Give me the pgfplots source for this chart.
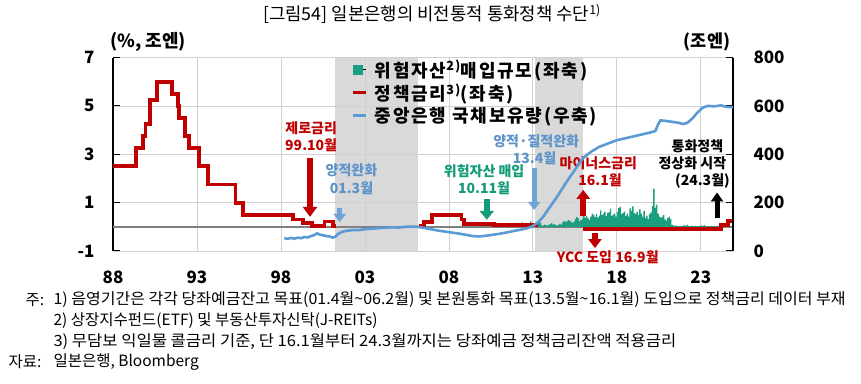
\documentclass[border=0pt]{standalone}
\usepackage{fontspec}
\usepackage{graphicx}
\setmainfont{Noto Sans CJK KR}
\newfontfamily\notefont{Noto Sans CJK KR}
\newfontfamily\legfont[LetterSpace=10]{Noto Sans CJK KR}
\usepackage{pgfplots}
\pgfplotsset{compat=1.18}
\usetikzlibrary{arrows.meta}
\definecolor{pred}{HTML}{C00000}
\definecolor{pblue}{HTML}{5B9BD5}
\definecolor{pgreen}{HTML}{1A9E80}
\definecolor{tgreen}{HTML}{139A78}
\definecolor{tblue}{HTML}{5E93C9}
\definecolor{ablue}{HTML}{6FA3D6}
\definecolor{shade}{HTML}{D9D9D9}
\definecolor{gridc}{HTML}{D0D0D0}
\newcommand{\tl}{\fontsize{17bp}{18bp}\selectfont\bfseries}
\newcommand{\an}{\fontsize{14bp}{16bp}\selectfont\bfseries}
\newcommand{\nt}{\notefont\fontsize{15.5bp}{17bp}\selectfont}
\begin{document}
\begin{tikzpicture}
\path (0,0) rectangle (861bp,384bp);
\begin{axis}[
  set layers,
  at={(113bp,133bp)}, anchor=south west,
  scale only axis, width=620bp, height=193.5bp,
  xmin=1988, xmax=2024.92, ymin=-1, ymax=7,
  axis x line*=bottom, axis y line*=left,
  axis line style={-},
  x axis line style={draw=none},
  y axis line style={black, line width=1.2bp},
  xtick={1988,1993,1998,2003,2008,2013,2018,2023},
  xticklabels={88,93,98,03,08,13,18,23},
  ytick={-1,1,3,5,7}, yticklabels={-1,1,3,5,7},
  xmajorgrids, ymajorgrids,
  grid style={gridc, line width=0.7bp},
  tick align=inside, major tick length=7bp,
  xtick style={draw=none},
  ytick style={black, line width=1bp},
  ticklabel style={font=\tl},
  yticklabel style={xshift=-15bp},
  xticklabel style={yshift=-16bp},
  clip mode=individual,
]
\addplot[fill=shade, draw=none, on layer=axis background] coordinates {(2001.2,-1) (2001.2,7) (2006.15,7) (2006.15,-1)} -- cycle;
\addplot[fill=shade, draw=none, on layer=axis background] coordinates {(2013.1,-1) (2013.1,7) (2016.0,7) (2016.0,-1)} -- cycle;
\draw[black!50, line width=2bp] (axis cs:1988,0) -- (axis cs:2024.92,0);
% risk asset purchases (monthly)
\addplot[fill=pgreen, draw=none, const plot] coordinates {
(2010.833,0.02)(2010.917,0.06)
(2011.000,0.03)(2011.083,0.05)(2011.167,0.15)(2011.250,0.04)(2011.333,0.02)(2011.417,0.03)(2011.500,0.06)(2011.583,0.12)(2011.667,0.05)(2011.750,0.03)(2011.833,0.08)(2011.917,0.04)
(2012.000,0.05)(2012.083,0.03)(2012.167,0.04)(2012.250,0.09)(2012.333,0.18)(2012.417,0.07)(2012.500,0.04)(2012.583,0.06)(2012.667,0.03)(2012.750,0.09)(2012.833,0.22)(2012.917,0.07)
(2013.000,0.05)(2013.083,0.06)(2013.167,0.04)(2013.250,0.10)(2013.333,0.16)(2013.417,0.18)(2013.500,0.05)(2013.583,0.06)(2013.667,0.09)(2013.750,0.07)(2013.833,0.05)(2013.917,0.08)
(2014.000,0.12)(2014.083,0.15)(2014.167,0.09)(2014.250,0.11)(2014.333,0.07)(2014.417,0.05)(2014.500,0.09)(2014.583,0.12)(2014.667,0.08)(2014.750,0.18)(2014.833,0.24)(2014.917,0.20)
(2015.000,0.22)(2015.083,0.28)(2015.167,0.25)(2015.250,0.20)(2015.333,0.15)(2015.417,0.22)(2015.500,0.32)(2015.583,0.40)(2015.667,0.35)(2015.750,0.22)(2015.833,0.28)(2015.917,0.33)
(2016.000,0.72)(2016.083,0.38)(2016.167,0.45)(2016.250,0.35)(2016.333,0.28)(2016.417,0.42)(2016.500,0.55)(2016.583,0.48)(2016.667,0.40)(2016.750,0.52)(2016.833,0.38)(2016.917,0.46)
(2017.000,0.68)(2017.083,0.48)(2017.167,0.55)(2017.250,0.62)(2017.333,0.44)(2017.417,0.58)(2017.500,0.60)(2017.583,0.74)(2017.667,0.45)(2017.750,0.50)(2017.833,0.55)(2017.917,0.42)
(2018.000,0.62)(2018.083,0.78)(2018.167,0.82)(2018.250,0.52)(2018.333,0.58)(2018.417,0.63)(2018.500,0.45)(2018.583,0.55)(2018.667,0.42)(2018.750,0.76)(2018.833,0.66)(2018.917,0.84)
(2019.000,0.57)(2019.083,0.52)(2019.167,0.62)(2019.250,0.48)(2019.333,0.72)(2019.417,0.55)(2019.500,0.42)(2019.583,0.66)(2019.667,0.36)(2019.750,0.46)(2019.833,0.32)(2019.917,0.52)
(2020.000,0.60)(2020.083,0.86)(2020.167,1.58)(2020.250,0.78)(2020.333,0.92)(2020.417,0.55)(2020.500,0.42)(2020.583,0.38)(2020.667,0.40)(2020.750,0.48)(2020.833,0.30)(2020.917,0.26)
(2021.000,0.36)(2021.083,0.42)(2021.167,0.33)(2021.250,0.08)(2021.333,0.06)(2021.417,0.04)(2021.500,0.05)(2021.583,0.03)(2021.667,0.02)(2021.750,0.04)(2021.833,0.03)(2021.917,0.05)
(2022.000,0.07)(2022.083,0.04)(2022.167,0.09)(2022.250,0.03)(2022.333,0.02)(2022.417,0.05)(2022.500,0.03)(2022.583,0.02)(2022.667,0.04)(2022.750,0.03)(2022.833,0.02)(2022.917,0.04)
(2023.000,0.06)(2023.083,0.03)(2023.167,0.07)(2023.250,0.02)(2023.333,0.02)(2023.417,0.03)(2023.500,0.02)(2023.583,0.01)(2023.667,0.03)(2023.750,0.02)(2023.833,0.01)(2023.917,0.03)
(2024.000,0.04)(2024.083,0.03)(2024.167,0.02)(2024.250,0)
} \closedcycle;
% policy rate
\addplot[pred, line width=3.8bp, const plot, line join=miter] coordinates {
(1988.0,2.5)(1989.35,3.25)(1989.8,3.75)(1989.94,4.25)(1990.2,5.25)(1990.6,6.0)(1991.49,5.5)(1991.85,5.0)(1991.93,4.5)(1992.29,3.75)(1992.54,3.25)(1993.14,2.5)(1993.67,1.75)(1995.3,1.0)(1995.72,0.5)(1998.7,0.3)(1999.3,0.15)(1999.83,0.02)(2000.6,0.22)(2001.12,0.02)(2001.3,0.02)};
\addplot[pred, line width=3.8bp, const plot, line join=miter] coordinates {
(2006.2,0.02)(2006.5,0.2)(2007.0,0.5)(2008.75,0.3)(2008.9,0.12)(2010.7,0.08)(2013.3,0.08)};
\addplot[pred, line width=3.8bp, const plot, line join=miter] coordinates {
(2016.0,-0.1)(2024.19,0.08)(2024.62,0.25)(2024.92,0.25)};
% annotation arrows
\draw[pred, line width=6bp, -{Triangle[width=14bp,length=10bp]}] (axis cs:1999.73,2.85) -- (axis cs:1999.73,0.41);
\draw[ablue, line width=5bp, -{Triangle[width=12bp,length=8bp]}] (axis cs:2001.5,0.79) -- (axis cs:2001.5,0.2);
\draw[tgreen, line width=6bp, -{Triangle[width=14bp,length=9bp]}] (axis cs:2010.26,1.16) -- (axis cs:2010.26,0.29);
\draw[ablue, line width=5bp, -{Triangle[width=12bp,length=8bp]}] (axis cs:2013.08,2.42) -- (axis cs:2013.08,0.7);
\draw[pred, line width=5.5bp, -{Triangle[width=13bp,length=9bp]}] (axis cs:2016.0,0.43) -- (axis cs:2016.0,1.53);
\draw[pred, line width=5.5bp, -{Triangle[width=13bp,length=9bp]}] (axis cs:2016.7,-0.26) -- (axis cs:2016.7,-0.88);
\draw[black, line width=5bp, -{Triangle[width=12bp,length=9bp]}] (axis cs:2023.97,0.36) -- (axis cs:2023.97,1.42);
% annotation texts
\node[text=pred, font=\an] at (axis cs:1999.8,4.09) {제로금리};
\node[text=pred, font=\an] at (axis cs:1999.8,3.36) {99.10월};
\node[text=tblue, font=\an] at (axis cs:2002.2,2.33) {양적완화};
\node[text=tblue, font=\an] at (axis cs:2002.2,1.6) {01.3월};
\node[text=tgreen, font=\an] at (axis cs:2010.1,2.29) {위험자산 매입};
\node[text=tgreen, font=\an] at (axis cs:2010.1,1.6) {10.11월};
\node[text=tblue, font=\an] at (axis cs:2013.2,3.53) {양적·질적완화};
\node[text=tblue, font=\an] at (axis cs:2013.1,2.84) {13.4월};
\node[text=pred, font=\an] at (axis cs:2016.9,2.63) {마이너스금리};
\node[text=pred, font=\an] at (axis cs:2017.0,1.94) {16.1월};
\node[text=pred, font=\an] at (axis cs:2017.46,-1.27) {YCC 도입 16.9월};
\node[text=black, font=\an] at (axis cs:2022.8,3.32) {통화정책};
\node[text=black, font=\an] at (axis cs:2022.5,2.63) {정상화 시작};
\node[text=black, font=\an] at (axis cs:2023.1,1.9) {(24.3월)};
\end{axis}
\begin{axis}[
  at={(113bp,133bp)}, anchor=south west,
  scale only axis, width=620bp, height=193.5bp,
  xmin=1988, xmax=2024.92, ymin=0, ymax=800,
  axis x line=none, axis y line*=right,
  axis line style={-, black, line width=1.2bp},
  ytick={0,200,400,600,800}, yticklabels={0,200,400,600,800},
  tick align=inside, major tick length=7bp,
  ytick style={black, line width=1bp},
  yticklabel style={font=\tl, xshift=17bp},
  clip mode=individual,
  legend style={at={(0.384,0.995)}, anchor=north west, draw=none, fill=none,
    font=\legfont\fontsize{18bp}{20bp}\selectfont\bfseries, row sep=2bp, column sep=6bp, inner sep=0pt,
    nodes={inner sep=1.5bp}},
  legend cell align=left,
]
\addlegendimage{legend image code/.code={\path (0bp,0bp) -- (13bp,0bp); \fill[pgreen] (0bp,-4.5bp) rectangle (9bp,4.5bp);}}
\addlegendentry{위험자산\textsuperscript{2)}매입규모(좌축)}
\addlegendimage{legend image code/.code={\draw[pred, line width=3bp] (0bp,0bp) -- (13bp,0bp);}}
\addlegendentry{정책금리\textsuperscript{3)}(좌축)}
\addplot[pblue, line width=2.6bp, legend image code/.code={\draw[pblue, line width=3bp] (0bp,0bp) -- (13bp,0bp);}] coordinates {
(1998.2,53)(1998.4,50)(1998.6,54)(1998.8,51)(1999.0,55)(1999.2,53)(1999.4,58)(1999.6,56)(1999.8,62)(2000.0,66)(2000.15,73)(2000.3,68)(2000.5,65)(2000.7,62)(2000.9,60)(2001.1,55)(2001.25,60)(2001.4,70)(2001.6,78)(2001.8,82)(2002.0,84)(2002.3,87)(2002.6,86)(2003.0,90)(2003.4,92)(2003.8,95)(2004.2,96)(2004.6,98)(2005.0,97)(2005.4,100)(2005.8,101)(2006.1,100)(2006.4,97)(2006.7,93)(2007.0,89)(2007.4,84)(2007.8,80)(2008.2,76)(2008.6,72)(2009.0,67)(2009.4,62)(2009.8,60)(2010.2,63)(2010.6,67)(2011.0,71)(2011.4,76)(2011.8,82)(2012.2,87)(2012.6,93)(2013.0,103)(2013.3,118)(2013.6,140)(2014.0,180)(2014.5,230)(2015.0,285)(2015.5,335)(2016.0,385)(2016.5,412)(2017.0,432)(2017.5,445)(2018.0,458)(2018.5,466)(2019.0,474)(2019.5,482)(2020.0,490)(2020.3,496)(2020.45,522)(2020.6,540)(2020.9,538)(2021.3,534)(2021.7,530)(2021.95,525)(2022.2,530)(2022.5,548)(2022.8,572)(2023.1,592)(2023.4,600)(2023.8,598)(2024.2,602)(2024.5,596)(2024.92,594)};
\addlegendentry{중앙은행 국채보유량(우축)}
\end{axis}
% titles and units
\node at (432bp,370bp) {\fontsize{17.8bp}{19bp}\selectfont [그림54] 일본은행의 비전통적 통화정책 수단\textsuperscript{1)}};
\node at (148bp,342bp) {\fontsize{18bp}{19bp}\selectfont\bfseries (\%, 조엔)};
\node at (707bp,342bp) {\fontsize{17.5bp}{19bp}\selectfont\bfseries (조엔)};
% footnotes
\node[anchor=west] at (22bp,84bp) {\nt 주:};
\node[anchor=west] at (50bp,84bp) {\scalebox{1.033}[1]{\nt 1) 음영기간은 각각 당좌예금잔고 목표(01.4월\textasciitilde 06.2월) 및 본원통화 목표(13.5월\textasciitilde 16.1월) 도입으로 정책금리 데이터 부재}};
\node[anchor=west] at (50bp,63bp) {\scalebox{1.0}[1]{\nt 2) 상장지수펀드(ETF) 및 부동산투자신탁(J-REITs)}};
\node[anchor=west] at (50bp,42bp) {\scalebox{1.067}[1]{\nt 3) 무담보 익일물 콜금리 기준, 단 16.1월부터 24.3월까지는 당좌예금 정책금리잔액 적용금리}};
\node[anchor=west] at (5bp,22bp) {\nt 자료:};
\node[anchor=west] at (50bp,22bp) {\nt 일본은행, Bloomberg};
\end{tikzpicture}
\end{document}
